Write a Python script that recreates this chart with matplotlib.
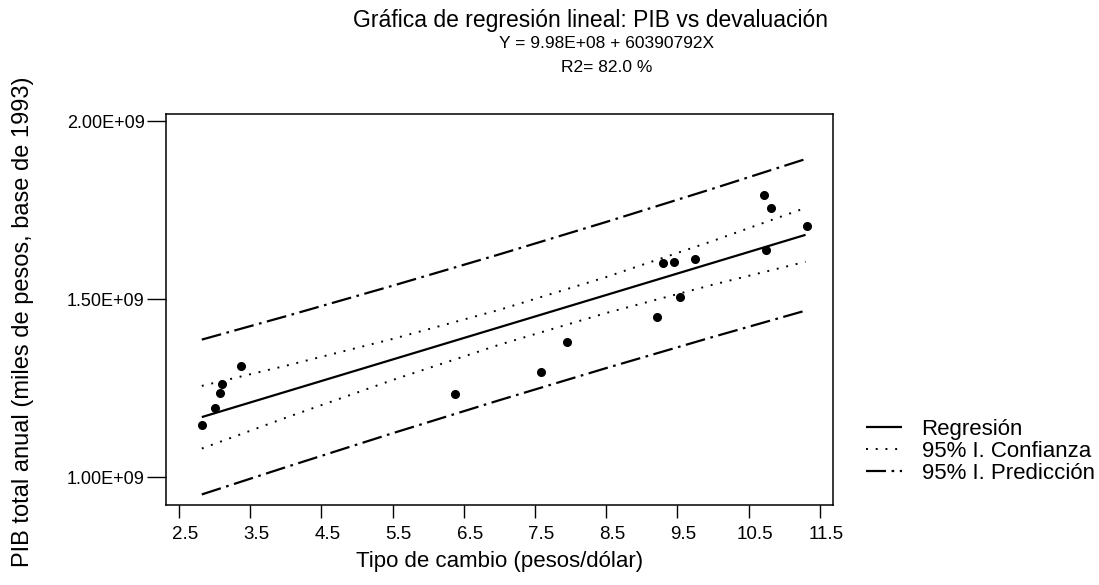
import matplotlib
matplotlib.use("Agg")
import matplotlib.pyplot as plt
import matplotlib.transforms as mtransforms
import numpy as np

plt.rcParams['font.family'] = ['Liberation Sans', 'DejaVu Sans']

# --- data ---
tipo_cambio = [2.82, 3.01, 3.08, 3.11, 3.37, 6.38, 7.58, 7.95, 9.22, 9.30,
               9.45, 9.54, 9.74, 10.72, 10.74, 10.82, 11.32]
pib = [1.146e9, 1.193e9, 1.235e9, 1.260e9, 1.313e9, 1.232e9, 1.294e9, 1.380e9,
       1.450e9, 1.600e9, 1.604e9, 1.505e9, 1.613e9, 1.792e9, 1.638e9, 1.756e9,
       1.706e9]

intercepto = 9.98e8
pendiente = 60390792
x_linea = [2.82, 11.3]

x_banda = [2.82, 4.0, 5.5, 7.0, 8.5, 10.0, 11.3]
ic_sup = [1.256e9, 1.3126e9, 1.3879e9, 1.4697e9, 1.5618e9, 1.6634e9, 1.7561e9]
ic_inf = [1.080e9, 1.1666e9, 1.2725e9, 1.3717e9, 1.4608e9, 1.5404e9, 1.6047e9]
ip_sup = [1.386e9, 1.4516e9, 1.5374e9, 1.6256e9, 1.7166e9, 1.8102e9, 1.8933e9]
ip_inf = [0.951e9, 1.0276e9, 1.1230e9, 1.2158e9, 1.3060e9, 1.3936e9, 1.4675e9]

xticks = [2.5, 3.5, 4.5, 5.5, 6.5, 7.5, 8.5, 9.5, 10.5, 11.5]
yticks = [1.0e9, 1.5e9, 2.0e9]
yticklabels = ['1.00E+09', '1.50E+09', '2.00E+09']

W, H = 1099, 585
fig = plt.figure(figsize=(W / 100, H / 100), dpi=100)
ax = fig.add_axes([165.7 / W, 1 - 505.3 / H, (833 - 165.7) / W, (505.3 - 114.3) / H])

y_linea = [intercepto + pendiente * x for x in x_linea]
dashdot = (0, (9, 2.5, 1.2, 2.5))
dotted = (0, (1, 4))

ax.plot(x_linea, y_linea, color='black', lw=1.6, solid_capstyle='butt', label='Regresión')
ax.plot(x_banda, ic_sup, color='black', lw=1.4, linestyle=dotted, label='95% I. Confianza')
ax.plot(x_banda, ic_inf, color='black', lw=1.4, linestyle=dotted)
ax.plot(x_banda, ip_sup, color='black', lw=1.6, linestyle=dashdot, label='95% I. Predicción')
ax.plot(x_banda, ip_inf, color='black', lw=1.6, linestyle=dashdot)
ax.plot(tipo_cambio, pib, 'o', color='black', ms=5.5, zorder=5)

ax.set_xlim(2.313, 11.685)
ax.set_ylim(0.9205e9, 2.019e9)
ax.set_xticks(xticks)
ax.set_xticklabels([f'{t:.1f}' for t in xticks], fontsize=13.5)
ax.set_yticks(yticks)
ax.set_yticklabels(yticklabels, fontsize=13)
ax.tick_params(axis='x', length=9, width=1, pad=6, direction='out')
ax.tick_params(axis='y', length=14, width=1, pad=1, direction='out')
shift = mtransforms.ScaledTranslation(6 / 100, 0, fig.dpi_scale_trans)
for lab in ax.get_xticklabels():
    lab.set_transform(lab.get_transform() + shift)
for s in ax.spines.values():
    s.set_linewidth(1.1)

ax.set_xlabel('Tipo de cambio (pesos/dólar)', fontsize=16)
ax.xaxis.set_label_coords(0.5, -0.117)
ax.set_ylabel('PIB total anual (miles de pesos, base de 1993)', fontsize=17)
ax.yaxis.set_label_coords(-0.197, 0.47)

fig.text(0.537, 1 - 20 / H, 'Gráfica de regresión lineal: PIB vs devaluación',
         ha='center', va='center', fontsize=16.5)
fig.text(0.552, 1 - 44 / H, 'Y = 9.98E+08 + 60390792X', ha='center', va='center', fontsize=12.5)
fig.text(0.552, 1 - 67 / H, 'R2= 82.0 %', ha='center', va='center', fontsize=12.5)

leg = ax.legend(loc='upper left', bbox_to_anchor=(866 / W, 1 - 419 / H),
                bbox_transform=fig.transFigure, frameon=False, fontsize=16,
                handlelength=1.6, handletextpad=0.9, labelspacing=0.05,
                borderpad=0, borderaxespad=0)

fig.savefig('out.png', dpi=100)
